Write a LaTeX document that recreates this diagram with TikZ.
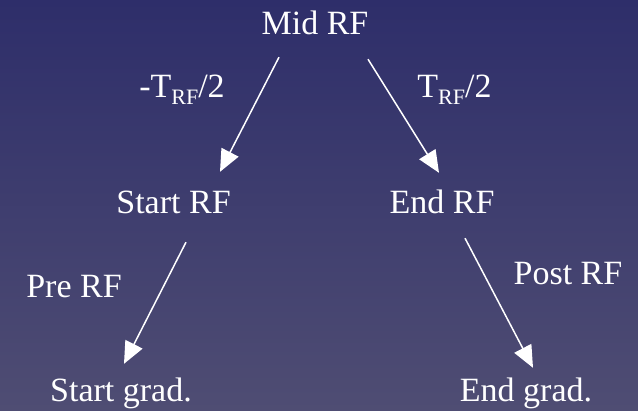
\documentclass[tikz,border=0pt]{standalone}
\usepackage{fontspec}
\setmainfont{Liberation Serif}
\newfontfamily\timesfont{Liberation Serif}
\usepackage{xcolor}
\usepackage{tikz}
\usetikzlibrary{arrows.meta}

\definecolor{bgtop}{HTML}{2E2E6A}
\definecolor{bgbot}{HTML}{4F4D73}
\newcommand{\subRF}{\raisebox{-7pt}{\fontsize{22}{22}\selectfont RF}}

\begin{document}
\begin{tikzpicture}[
  x=1pt, y=1pt,
  lbl/.style={anchor=base, inner sep=0pt, text height=24pt, text depth=8pt, text=white, font=\timesfont\fontsize{34}{40}\selectfont},
  arr/.style={-{Triangle[length=22pt,width=19pt]}, line width=1.5pt, draw=white}
]
\shade[top color=bgtop, bottom color=bgbot] (0,0) rectangle (638,-411);
\useasboundingbox (0,0) rectangle (638,-411);

\node[lbl] (mid) at (315,-35) {Mid RF};
\node[lbl] (start) at (173.5,-214) {Start RF};
\node[lbl] (end) at (442,-214) {End RF};
\node[lbl] (sgrad) at (121,-402) {Start grad.};
\node[lbl] (egrad) at (526,-402) {End grad.};

\node[lbl] (tneg) at (182,-98) {-T\subRF/2};
\node[lbl] (tpos) at (454.5,-98) {T\subRF/2};
\node[lbl] (pre) at (74,-298) {Pre RF};
\node[lbl] (post) at (568,-285) {Post RF};

\draw[arr] ([xshift=-36pt,yshift=-14pt]mid.south) -- ([xshift=46.5pt,yshift=18pt]start.north);
\draw[arr] ([xshift=53pt,yshift=-16pt]mid.south) -- ([xshift=-3pt,yshift=17pt]end.north);
\draw[arr] ([xshift=12.5pt,yshift=-20pt]start.south) -- ([xshift=3pt,yshift=14pt]sgrad.north);
\draw[arr] ([xshift=23pt,yshift=-16pt]end.south) -- ([xshift=7pt,yshift=10pt]egrad.north);
\end{tikzpicture}
\end{document}
